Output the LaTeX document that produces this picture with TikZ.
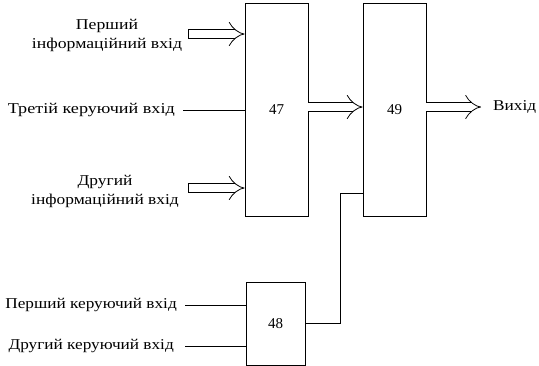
\documentclass[tikz,border=0pt]{standalone}
\usepackage{fontspec}
\usepackage{graphicx}
\setmainfont{Liberation Serif}
\newcommand\widetxt[2][1.15]{\scalebox{#1}[1]{#2}}
\usetikzlibrary{arrows.meta}
\begin{document}
\begin{tikzpicture}[x=1pt,y=-1pt,
  box/.style={draw, line width=0.8pt, inner sep=0pt, font=\fontsize{15}{18}\selectfont},
  lbl/.style={inner sep=0pt, font=\fontsize{15}{19}\selectfont, align=center},
  wire/.style={line width=0.8pt},
  bus/.style={double, line width=0.8pt, double distance=8pt, -{Implies}},
  inbus/.style={bus, {Bar[width=9.6pt]}-{Implies}}]
\useasboundingbox (0,0) rectangle (539,365);
\node[box, minimum width=63pt, minimum height=213pt] (b47) at (276.5,109.5) {47};
\node[box, minimum width=63pt, minimum height=213pt] (b49) at (394.5,109.5) {49};
\node[box, minimum width=59pt, minimum height=83pt] (b48) at (275.5,323.5) {48};
% labels
\node[lbl] (l1) at (107,35.5) {\widetxt[1.18]{Перший}\\\widetxt[1.18]{інформаційний вхід}};
\node[lbl, anchor=east] (l3) at (175,110) {\widetxt[1.21]{Третій керуючий вхід}};
\node[lbl] (l2) at (105,191.5) {\widetxt[1.16]{Другий}\\\widetxt[1.16]{інформаційний вхід}};
\node[lbl, anchor=east] (lk1) at (177,305) {\widetxt{Перший керуючий вхід}};
\node[lbl, anchor=east] (lk2) at (174,346) {\widetxt{Другий керуючий вхід}};
\node[lbl, anchor=west] (out) at (493,107) {\widetxt{Вихід}};
% free ends
\coordinate (i1) at (188,34);
\coordinate (i2) at (188,188);
\coordinate (c3) at (183,110);
\coordinate (k1) at (185,305);
\coordinate (k2) at (185,346);
\coordinate (o) at (481,107);
\coordinate (bend) at (340,193);
% connectors
\draw[inbus] (i1) -- (i1 -| b47.west);
\draw[inbus] (i2) -- (i2 -| b47.west);
\draw[wire] (c3) -- (c3 -| b47.west);
\draw[wire] (k1) -- (k1 -| b48.west);
\draw[wire] (k2) -- (k2 -| b48.west);
\draw[bus] (b47.east |- o) -- (b49.west |- o);
\draw[bus] (b49.east |- o) -- (o);
\draw[wire] (b48.east) -| (bend) -- (bend -| b49.west);
\end{tikzpicture}
\end{document}
